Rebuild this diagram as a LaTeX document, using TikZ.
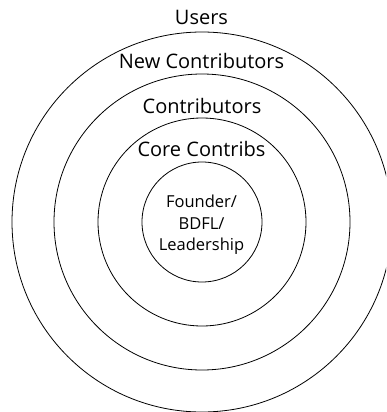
\documentclass[tikz,border=0pt]{standalone}
\usepackage{fontspec}
\setmainfont{Open Sans}
\begin{document}
\begin{tikzpicture}[x=1pt,y=-1pt,
  ring/.style={circle,draw=black,line width=0.8pt,inner sep=0pt},
  lab/.style={anchor=base,font=\fontsize{20}{24}\selectfont},
  innerlab/.style={align=center,font=\fontsize{16.5}{21.5}\selectfont,inner sep=0pt}]
\useasboundingbox (0,0) rectangle (386,412);
\clip (0,0) rectangle (386,412);
\node[ring,minimum size=380pt] (newc) at (202,222) {};
\node[ring,minimum size=296pt] (contr) at (202,222) {};
\node[ring,minimum size=208pt] (corec) at (202,222) {};
\node[ring,minimum size=120pt] (found) at (202,222) {};
\node[lab] (users) at (201.5,25) {Users};
\node[lab] (newlab) at (201.5,68.3) {New Contributors};
\node[lab] (contrlab) at (202,113.3) {Contributors};
\node[lab] (corelab) at (201.5,156.7) {Core Contribs};
\node[innerlab] (foundlab) at (201.5,225.2) {Founder/\\BDFL/\\Leadership};
\end{tikzpicture}
\end{document}
